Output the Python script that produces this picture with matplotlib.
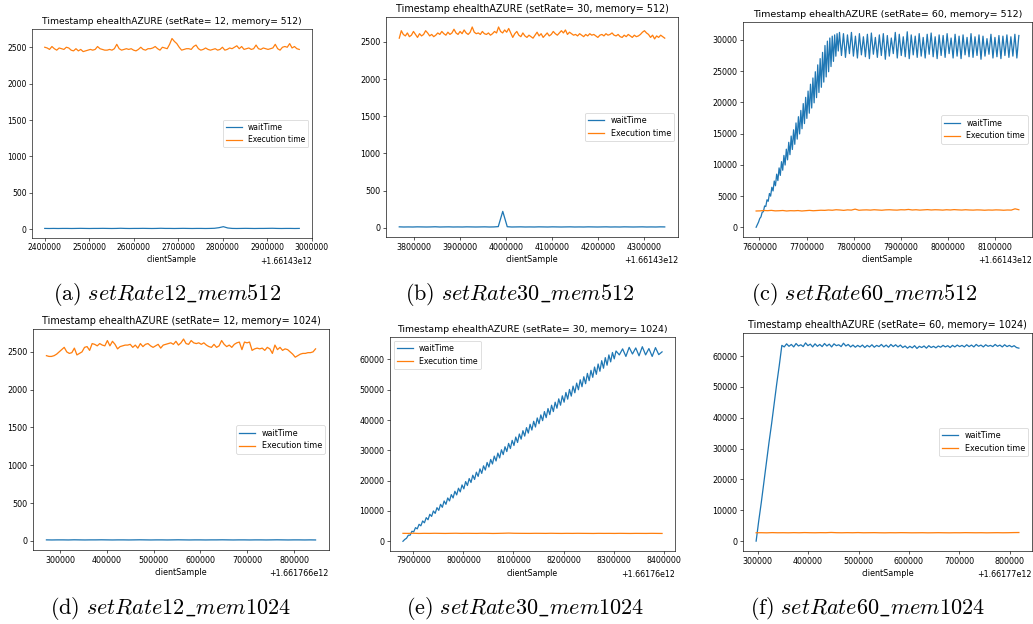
import numpy as np
import matplotlib
matplotlib.use("Agg")
import matplotlib.pyplot as plt

plt.rcParams['mathtext.fontset'] = 'cm'

# offsets of the timestamps (ms) + start / knee / end of each run
a_base, a_start, a_knee, a_end = 1661430000000, 2400000, None, 2972000
b_base, b_start, b_knee, b_end = 1661430000000, 3769000, None, 4345000
c_base, c_start, c_knee, c_end = 1661430000000, 7593000, 7770000, 8151000
d_base, d_start, d_knee, d_end = 1661766000000, 271000, None, 846000
e_base, e_start, e_knee, e_end = 1661760000000, 7879000, 8305000, 8397000
f_base, f_start, f_knee, f_end = 1661770000000, 297000, 348000, 818000

# (a) setRate 12, mem 512
a_wait = [12, 11, 12, 11, 12, 12, 11, 12, 13, 12, 11, 12, 12, 13, 12, 11, 12, 14, 12, 11,
          12, 12, 13, 12, 11, 12, 14, 12, 12, 11, 12, 13, 12, 11, 12, 12, 11, 12, 14, 22,
          36, 18, 12, 11, 12, 13, 12, 11, 12, 12, 13, 14, 12, 11, 12, 12, 11, 12]
a_exec = [2500, 2490, 2470, 2510, 2480, 2460, 2490, 2480, 2470, 2500, 2490, 2460, 2450, 2480,
          2450, 2470, 2440, 2450, 2460, 2470, 2460, 2470, 2510, 2480, 2470, 2460, 2460, 2470,
          2460, 2480, 2540, 2480, 2460, 2470, 2480, 2470, 2480, 2460, 2450, 2470, 2500, 2470,
          2460, 2480, 2480, 2490, 2510, 2480, 2460, 2500, 2490, 2480, 2540, 2620, 2580, 2550,
          2500, 2460, 2470, 2480, 2480, 2470, 2510, 2530, 2480, 2460, 2470, 2490, 2470, 2460,
          2470, 2480, 2460, 2470, 2500, 2460, 2470, 2490, 2480, 2500, 2520, 2480, 2510, 2470,
          2480, 2490, 2470, 2480, 2530, 2480, 2470, 2490, 2480, 2470, 2480, 2490, 2540, 2480,
          2460, 2500, 2510, 2500, 2550, 2490, 2510, 2480, 2470]

# (b) setRate 30, mem 512
b_wait = [12, 10, 11, 10, 12, 11, 10, 11, 13, 10, 11, 12, 10, 11, 10, 12, 11, 10, 11, 12,
          10, 11, 15, 220, 14, 10, 11, 12, 10, 11, 10, 12, 11, 10, 12, 11, 10, 11, 12, 10,
          11, 10, 12, 11, 10, 11, 12, 10, 11, 10, 12, 11, 10, 11, 12, 10, 11, 10, 12, 11]
b_exec = [2550, 2650, 2600, 2580, 2620, 2570, 2590, 2640, 2600, 2560, 2610, 2580, 2600, 2650,
          2620, 2580, 2600, 2570, 2590, 2620, 2600, 2640, 2610, 2590, 2630, 2600, 2620, 2670,
          2620, 2600, 2640, 2610, 2660, 2620, 2600, 2630, 2700, 2630, 2610, 2620, 2600, 2640,
          2610, 2600, 2620, 2590, 2610, 2640, 2620, 2700, 2640, 2620, 2660, 2630, 2680, 2620,
          2560, 2610, 2640, 2590, 2570, 2620, 2580, 2560, 2590, 2570, 2550, 2590, 2630, 2580,
          2610, 2560, 2590, 2620, 2580, 2600, 2640, 2610, 2590, 2620, 2650, 2620, 2660, 2600,
          2630, 2610, 2590, 2600, 2580, 2610, 2590, 2570, 2600, 2580, 2610, 2590, 2600, 2580,
          2560, 2590, 2600, 2580, 2610, 2590, 2600, 2620, 2590, 2580, 2600, 2570, 2560, 2590,
          2570, 2600, 2580, 2560, 2590, 2570, 2580, 2600, 2630, 2650, 2620, 2600, 2560, 2590,
          2540, 2580, 2560, 2590, 2570, 2550]

# (c) setRate 60, mem 512  (ramp part, then saturated part)
c_wait_ramp = [0, 400, 830, 1400, 1660, 2400, 2490, 3400, 3320, 4400, 4150, 5400, 4980, 6400,
               5810, 7400, 6640, 8500, 7470, 9500, 8300, 10500, 9130, 11500, 9960, 12500,
               10790, 13600, 11620, 14600, 12450, 15600, 13280, 16700, 14110, 17700, 14940,
               18700, 15770, 19800, 16600, 20800, 17430, 21800, 18260, 22900, 19090, 23900,
               19920, 24900, 20750, 26000, 21580, 27000, 22410, 28000, 23240, 29100, 24070,
               29800, 24900, 30300, 25730, 30600, 26560, 30800, 27390, 31000, 28220, 31200]
c_wait_flat = [27500, 31000, 27200, 30800, 27800, 31200, 27400, 30600, 27100, 31000, 27600,
               30500, 27300, 30900, 27000, 31100, 27700, 30400, 27200, 30800, 27500, 31000,
               26900, 30700, 27400, 30300, 27800, 31200, 27100, 30900, 27500, 30500, 27300,
               31300, 27000, 30800, 27600, 30600, 27200, 31000, 27400, 30400, 27100, 30900,
               27700, 31100, 27300, 30500, 27000, 30800, 27500, 30700, 27200, 31000, 27800,
               30300, 27100, 30900, 27400, 30600, 27000, 30800, 27600, 30400, 27300, 31000,
               27200, 30500, 27500, 30800, 26900, 30600, 27400, 30200, 27700, 30900, 27100,
               30400, 27300, 30700, 27000, 30600, 27500, 30800, 27200, 30500, 27400, 30900,
               27100, 30700]
c_exec = [2600, 2620, 2680, 2650, 2700, 2620, 2640, 2680, 2600, 2650, 2630, 2670, 2600, 2650,
          2700, 2640, 2680, 2720, 2700, 2760, 2720, 2800, 2760, 2700, 2780, 2740, 2900, 2720,
          2760, 2780, 2740, 2800, 2760, 2720, 2780, 2800, 2760, 2740, 2800, 2780, 2850, 2760,
          2800, 2740, 2780, 2820, 2760, 2800, 2780, 2740, 2800, 2760, 2820, 2780, 2750, 2800,
          2760, 2740, 2780, 2760, 2720, 2760, 2740, 2780, 2760, 2720, 2760, 2740, 2950, 2800]

# (d) setRate 12, mem 1024
d_wait = [12, 11, 12, 12, 11, 13, 12, 11, 12, 12, 13, 12, 11, 12, 12, 11, 12, 13, 12, 11,
          12, 12, 11, 12, 13, 12, 11, 12, 12, 11, 12, 12, 13, 12, 11, 12, 12, 11, 12, 12,
          11, 12, 13, 12, 11, 12, 12, 11, 12, 11]
d_exec = [2450, 2440, 2440, 2450, 2470, 2500, 2530, 2560, 2500, 2480, 2490, 2550, 2460, 2480,
          2500, 2560, 2570, 2520, 2610, 2600, 2580, 2610, 2590, 2580, 2650, 2580, 2640, 2600,
          2540, 2570, 2580, 2590, 2590, 2600, 2560, 2590, 2550, 2610, 2570, 2600, 2610, 2580,
          2560, 2580, 2600, 2550, 2590, 2600, 2610, 2620, 2600, 2640, 2590, 2620, 2670, 2610,
          2600, 2650, 2620, 2610, 2620, 2600, 2620, 2590, 2570, 2560, 2600, 2560, 2580, 2650,
          2600, 2570, 2590, 2560, 2600, 2620, 2630, 2530, 2630, 2620, 2630, 2520, 2540, 2550,
          2540, 2550, 2520, 2560, 2540, 2480, 2590, 2530, 2560, 2520, 2540, 2530, 2500, 2470,
          2430, 2450, 2470, 2480, 2480, 2490, 2490, 2500, 2540]

# (e) setRate 30, mem 1024
e_wait_ramp = [0, 600, 1000, 2000, 2000, 3300, 3100, 4500, 4100, 5600, 5100, 6700, 6100, 7800,
               7100, 8900, 8200, 10000, 9200, 11100, 10200, 12200, 11200, 13300, 12200, 14300,
               13300, 15400, 14300, 16500, 15300, 17500, 16300, 18600, 17300, 19700, 18400,
               20700, 19400, 21800, 20400, 22800, 21400, 23900, 22400, 24900, 23500, 26000,
               24500, 27000, 25500, 28100, 26500, 29100, 27500, 30200, 28600, 31200, 29600,
               32300, 30600, 33300, 31600, 34400, 32600, 35400, 33700, 36500, 34700, 37500,
               35700, 38600, 36700, 39600, 37700, 40700, 38800, 41700, 39800, 42800, 40800,
               43800, 41800, 44900, 42800, 45900, 43900, 47000, 44900, 48000, 45900, 49100,
               46900, 50100, 47900, 51200, 49000, 52200, 50000, 53300, 51000, 54300, 52000,
               55400, 53000, 56400, 54100, 57500, 55100, 58500, 56100, 59600, 57100, 60600,
               58100, 61500, 59200, 62300, 60200, 62800]
e_wait_flat = [61500, 63500, 61000, 64000, 61800, 63800, 61200, 64200, 61500, 63600, 61000,
               63900, 61600, 62500]
e_exec = [2620, 2600, 2650, 2580, 2620, 2600, 2640, 2610, 2590, 2620, 2650, 2600, 2630, 2610,
          2600, 2640, 2620, 2580, 2610, 2650, 2700, 2640, 2620, 2610, 2600, 2630, 2620, 2600,
          2640, 2610, 2590, 2620, 2600, 2630, 2610, 2600, 2580, 2620, 2600, 2610, 2590, 2620,
          2600, 2580, 2610, 2600, 2590, 2620, 2600, 2580]

# (f) setRate 60, mem 1024
f_wait_ramp = [0, 6500, 12500, 19000, 25500, 32000, 38000, 44500, 51000, 57000, 63500]
f_wait_flat = [63000, 64000, 63200, 63800, 63000, 64100, 63300, 63700, 63100, 64300, 63400,
               63900, 63000, 64000, 63200, 63800, 63100, 64100, 63300, 63900, 63000, 64000,
               63400, 63700, 63100, 64200, 63300, 63800, 63000, 63600, 62900, 63500, 63000,
               63600, 62800, 63500, 63000, 63700, 62900, 63500, 63100, 63800, 63000, 63600,
               62900, 63800, 63100, 63700, 63000, 63600, 62800, 63300, 62600, 63200, 62700,
               63400, 62500, 63200, 62800, 63300, 62600, 63400, 62800, 63200, 62700, 63300,
               62900, 63500, 63000, 63400, 62800, 63500, 63000, 63600, 63100, 63500, 63000,
               63700, 63100, 63600, 63000, 63800, 63200, 63600, 63000, 63700, 63200, 63500,
               63100, 63800, 63200, 63600, 63000, 63700, 63100, 63500, 63000, 63400, 62800,
               62600]
f_exec = [2700, 2720, 2680, 2750, 2700, 2720, 2690, 2740, 2700, 2760, 2720, 2700, 2740, 2720,
          2800, 2720, 2700, 2740, 2710, 2760, 2700, 2720, 2740, 2700, 2680, 2720, 2700, 2740,
          2720, 2690, 2700, 2720, 2680, 2700, 2730, 2700, 2680, 2710, 2700, 2740, 2720, 2700,
          2720, 2680, 2710, 2730, 2700, 2720, 2760, 2780]

W, H = 1033, 624
fig = plt.figure(figsize=(W / 100, H / 100), dpi=100)
fig.patch.set_facecolor('white')


def panel(box, s, base, start, knee, end, wait, exe, title, loc):
    # box = left, top, right, bottom in pixels
    l, t, r, b = box
    ax = fig.add_axes([l / W, 1 - b / H, (r - l) / W, (b - t) / H])
    if knee is None:
        xw = np.linspace(start, end, len(wait))
        yw = wait
    else:
        ramp, flat = wait
        xw = np.concatenate([np.linspace(start, knee, len(ramp)),
                             np.linspace(knee, end, len(flat) + 1)[1:]])
        yw = ramp + flat
    xe = np.linspace(start, end, len(exe))
    ax.plot(base + xw, yw, color='#1f77b4', lw=1.6 * s, label='waitTime')
    ax.plot(base + xe, exe, color='#ff7f0e', lw=1.6 * s, label='Execution time')
    ax.set_title(title, fontsize=12 * s, pad=6 * s)
    ax.set_xlabel('clientSample', fontsize=10 * s, labelpad=4 * s)
    ax.tick_params(labelsize=10 * s, length=3.5 * s, width=0.8 * s, pad=3.5 * s)
    ax.xaxis.get_offset_text().set_fontsize(10 * s)
    for sp in ax.spines.values():
        sp.set_linewidth(0.8 * s)
    leg = ax.legend(loc=loc, fontsize=10 * s)
    leg.get_frame().set_linewidth(1.0 * s)
    return ax


panel((32, 29, 312, 238), 0.55, a_base, a_start, a_knee, a_end, a_wait, a_exec,
      'Timestamp ehealthAZURE (setRate= 12, memory= 512)', 'center right')
panel((386, 17, 678, 237), 0.575, b_base, b_start, b_knee, b_end, b_wait, b_exec,
      'Timestamp ehealthAZURE (setRate= 30, memory= 512)', 'center right')
panel((743, 22, 1032, 237), 0.567, c_base, c_start, c_knee, c_end,
      (c_wait_ramp, c_wait_flat), c_exec,
      'Timestamp ehealthAZURE (setRate= 60, memory= 512)', 'center right')
panel((33, 329, 329, 550), 0.575, d_base, d_start, d_knee, d_end, d_wait, d_exec,
      'Timestamp ehealthAZURE (setRate= 12, memory= 1024)', 'center right')
panel((390, 337, 675, 551), 0.563, e_base, e_start, e_knee, e_end,
      (e_wait_ramp, e_wait_flat), e_exec,
      'Timestamp ehealthAZURE (setRate= 30, memory= 1024)', 'upper left')
panel((743, 333, 1032, 551), 0.575, f_base, f_start, f_knee, f_end,
      (f_wait_ramp, f_wait_flat), f_exec,
      'Timestamp ehealthAZURE (setRate= 60, memory= 1024)', 'center right')

captions = [(167, 295, r'$\mathrm{(a)}\ setRate12\_mem512$'),
            (520, 295, r'$\mathrm{(b)}\ setRate30\_mem512$'),
            (864, 295, r'$\mathrm{(c)}\ setRate60\_mem512$'),
            (170, 608, r'$\mathrm{(d)}\ setRate12\_mem1024$'),
            (525, 608, r'$\mathrm{(e)}\ setRate30\_mem1024$'),
            (868, 608, r'$\mathrm{(f)}\ setRate60\_mem1024$')]
for cx, cy, txt in captions:
    fig.text(cx / W, 1 - cy / H, txt, ha='center', va='center', fontsize=16)

fig.savefig('out.png', dpi=100)
